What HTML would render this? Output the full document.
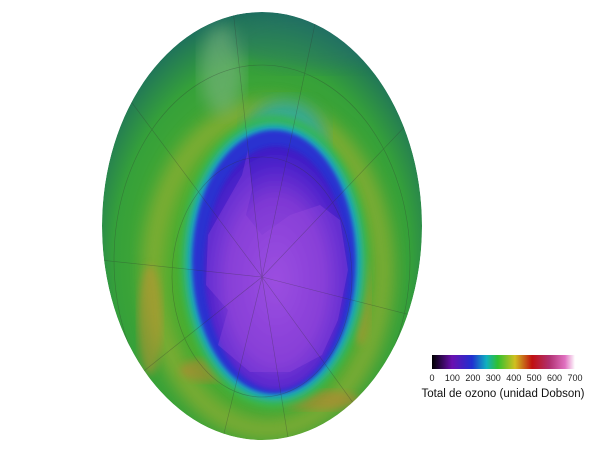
<!DOCTYPE html>
<html><head><meta charset="utf-8"><style>
body{margin:0;background:#fff;width:600px;height:450px;overflow:hidden;font-family:"Liberation Sans",sans-serif}
</style></head><body>
<svg width="600" height="450" viewBox="0 0 600 450">
<defs>
<radialGradient id="gEarth" cx="0.5" cy="0.58" r="0.58">
<stop offset="0.5" stop-color="#48ac30"/><stop offset="0.8" stop-color="#35a03a"/><stop offset="1" stop-color="#1d6e5e"/>
</radialGradient>
<radialGradient id="gHole" cx="0.5" cy="0.55" r="0.55">
<stop offset="0" stop-color="#9a4ee0"/><stop offset="0.6" stop-color="#7e38d4"/><stop offset="0.85" stop-color="#5024cc"/><stop offset="1" stop-color="#3a1cc4"/>
</radialGradient>
<filter id="b8"><feGaussianBlur stdDeviation="8"/></filter>
<filter id="b4"><feGaussianBlur stdDeviation="4"/></filter>
<filter id="b2"><feGaussianBlur stdDeviation="2"/></filter>
<clipPath id="cp"><ellipse cx="262" cy="226" rx="160" ry="214"/></clipPath>
<linearGradient id="gBar" x1="0" x2="1">
<stop offset="0" stop-color="#000"/><stop offset="0.14" stop-color="#6a10b0"/><stop offset="0.28" stop-color="#2030d0"/><stop offset="0.38" stop-color="#10b0c0"/><stop offset="0.46" stop-color="#30c030"/><stop offset="0.58" stop-color="#d0c020"/><stop offset="0.7" stop-color="#c01010"/><stop offset="0.82" stop-color="#b03070"/><stop offset="0.93" stop-color="#e070c0"/><stop offset="1" stop-color="#fff"/>
</linearGradient>
</defs>
<g clip-path="url(#cp)">
<ellipse cx="262" cy="226" rx="160" ry="214" fill="url(#gEarth)"/>
<ellipse cx="268" cy="270" rx="115" ry="160" fill="none" stroke="#b0b030" stroke-width="22" filter="url(#b8)" opacity="0.55"/>
<ellipse cx="150" cy="320" rx="12" ry="55" fill="#c89030" opacity="0.5" filter="url(#b4)"/>
<ellipse cx="360" cy="300" rx="10" ry="45" fill="#c89030" opacity="0.5" filter="url(#b4)"/>
<ellipse cx="320" cy="400" rx="40" ry="10" fill="#c88030" opacity="0.5" filter="url(#b4)"/>
<ellipse cx="210" cy="370" rx="30" ry="12" fill="#c88030" opacity="0.5" filter="url(#b4)"/>
<ellipse cx="222" cy="70" rx="22" ry="45" fill="#8ab890" opacity="0.5" filter="url(#b8)"/>
<ellipse cx="310" cy="40" rx="80" ry="30" fill="#2a7070" opacity="0.35" filter="url(#b8)"/>
<ellipse cx="285" cy="140" rx="40" ry="40" fill="#20a8b0" filter="url(#b8)" opacity="0.8"/>
<ellipse cx="274" cy="262" rx="94" ry="146" fill="#3cb848" filter="url(#b4)"/>
<ellipse cx="274" cy="262" rx="88" ry="138" fill="#18a8c8" filter="url(#b4)"/>
<ellipse cx="274" cy="262" rx="82" ry="132" fill="#2a30d0" filter="url(#b2)"/>
<ellipse cx="276" cy="268" rx="72" ry="122" fill="url(#gHole)" filter="url(#b2)"/>
<path d="M208 235 L225 205 L242 175 L248 150 L252 190 L246 215 L262 235 L290 215 L320 205 L340 220 L348 270 L338 320 L322 355 L290 372 L250 372 L218 345 L228 310 L206 285 Z" fill="#a050e0" opacity="0.3"/>
<g stroke="#333" stroke-width="0.6" opacity="0.35" fill="none">
<ellipse cx="262" cy="277" rx="90" ry="120"/>
<ellipse cx="262" cy="260" rx="148" ry="195"/>
<line x1="262" y1="277" x2="232" y2="0"/><line x1="262" y1="277" x2="320" y2="0"/><line x1="262" y1="277" x2="100" y2="60"/><line x1="262" y1="277" x2="430" y2="100"/>
<line x1="262" y1="277" x2="100" y2="260"/><line x1="262" y1="277" x2="430" y2="320"/><line x1="262" y1="277" x2="120" y2="390"/><line x1="262" y1="277" x2="290" y2="450"/><line x1="262" y1="277" x2="380" y2="440"/><line x1="262" y1="277" x2="220" y2="450"/>
</g>
</g>
<g>
<rect x="432" y="355" width="143" height="14" fill="url(#gBar)"/>
<g id="ticks" font-size="9" fill="#222" text-anchor="middle"></g>
<text x="503" y="397" font-size="11.5" text-anchor="middle" fill="#111">Total de ozono (unidad Dobson)</text>
</g>
</svg>
<script>
const tickValues=[0,100,200,300,400,500,600,700];
const g=document.getElementById('ticks');
const x=v=>432+v/700*143;
tickValues.forEach(v=>{
const t=document.createElementNS('http://www.w3.org/2000/svg','text');


t.setAttribute('x',x(v));t.setAttribute('y',381);t.textContent=v;g.appendChild(t);});
</script>
</body></html>
